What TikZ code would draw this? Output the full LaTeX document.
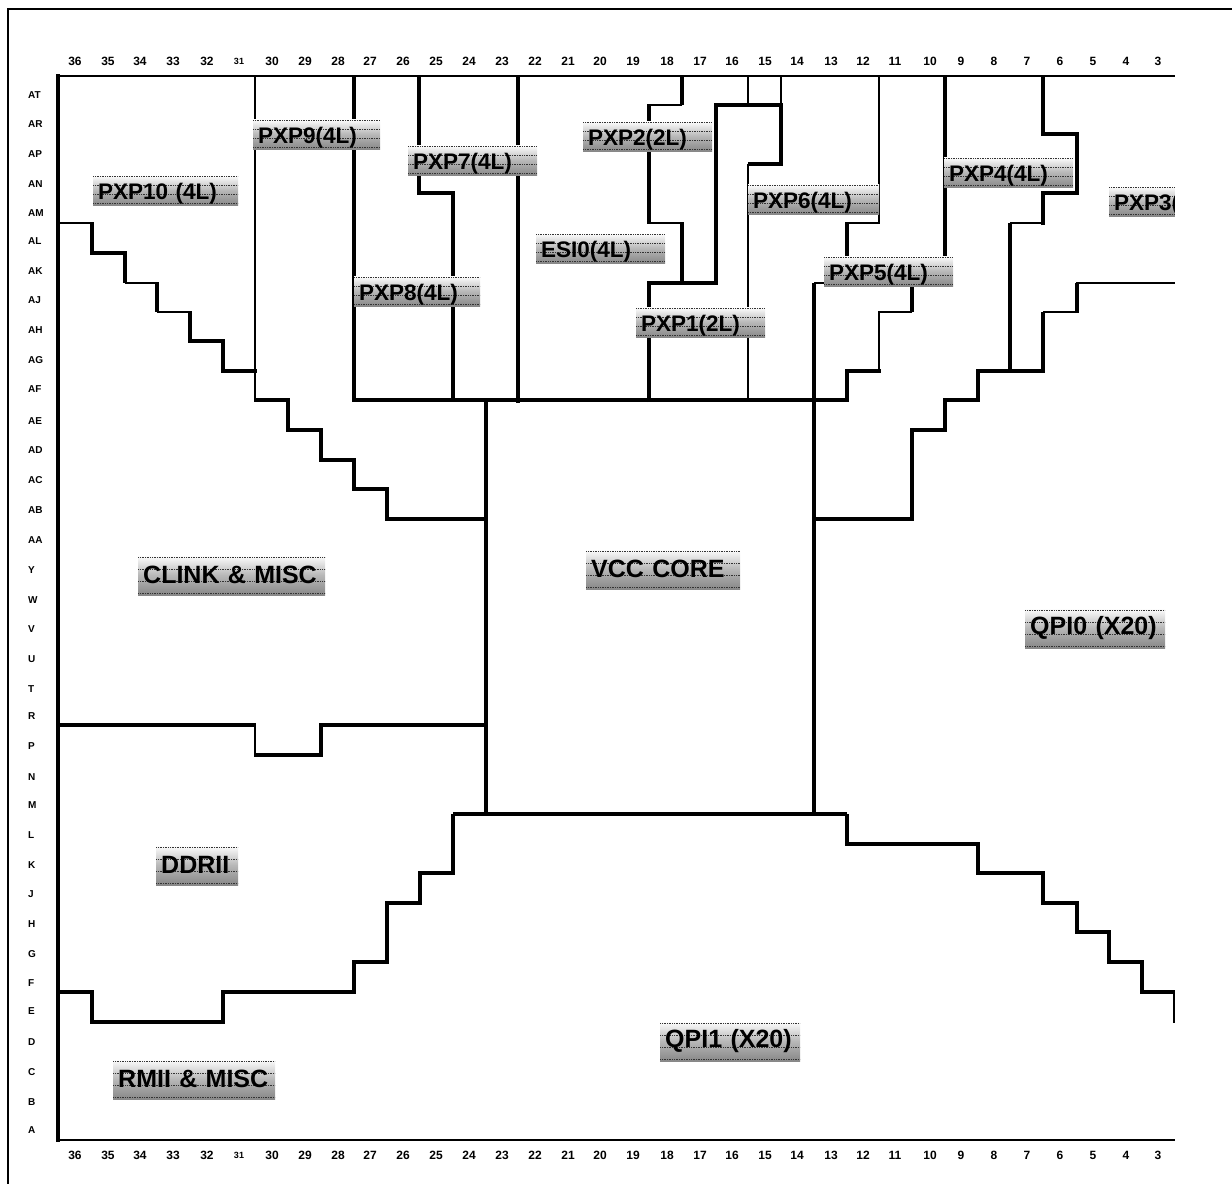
\documentclass[tikz,border=0pt]{standalone}
\usepackage{fontspec}
\setmainfont{Liberation Sans}
\usetikzlibrary{calc}

\tikzset{
  wall/.style={line width=3.2pt,line join=miter},
  thinwall/.style={line width=2pt,line join=miter},
  collabel/.style={font=\bfseries\fontsize{12}{12}\selectfont,inner sep=0pt},
  rowlabel/.style={font=\bfseries\fontsize{10}{10}\selectfont,inner sep=0pt,anchor=west},
  pinbox/.style={anchor=north west,inner xsep=5pt,inner ysep=0pt,align=left,
    top color=white,bottom color=black!47,middle color=black!28,
    path picture={
      \foreach \f in {.05,.35,.65,.95}
        \draw[densely dotted,black!80,line width=.7pt]
          ($(path picture bounding box.north west)!\f!(path picture bounding box.south west)$) --
          ($(path picture bounding box.north east)!\f!(path picture bounding box.south east)$);
    }},
  smallpin/.style={pinbox,font=\bfseries\fontsize{22.5}{22.5}\selectfont,minimum height=30pt},
  bigpin/.style={pinbox,font=\bfseries\fontsize{25}{25}\selectfont,minimum height=40pt}
}

\begin{document}
\begin{tikzpicture}[x=1pt,y=-1pt]
  \useasboundingbox (0,0) rectangle (1232,1184);

  % frame and pin field
  \draw[thinwall] (1232,9) -- (8,9) -- (8,1184);
  \draw[thinwall] (58,76) -- (1175,76);
  \draw[thinwall] (57,1140) -- (1175,1140);
  \draw[wall] (58,74) -- (58,1142);

  \foreach \n/\x in {36/75,35/108,34/140,33/173,32/207,31/239,30/272,29/305,28/338,27/370,
      26/403,25/436,24/469,23/502,22/535,21/568,20/600,19/633,18/667,17/700,16/732,15/765,
      14/797,13/831,12/863,11/895,10/930,9/961,8/994,7/1027,6/1060,5/1093,4/1126,3/1158} {
    \ifnum\n=31
      \node[collabel,font=\bfseries\fontsize{9}{9}\selectfont] (top\n) at (\x,61) {\n};
      \node[collabel,font=\bfseries\fontsize{9}{9}\selectfont] (bot\n) at (\x,1155) {\n};
    \else
      \node[collabel] (top\n) at (\x,61) {\n};
      \node[collabel] (bot\n) at (\x,1155) {\n};
    \fi
  }

  \foreach \r/\y in {AT/95,AR/124,AP/154,AN/184,AM/213,AL/241,AK/271,AJ/300,AH/330,AG/360,
      AF/389,AE/421,AD/450,AC/480,AB/510,AA/540,Y/570,W/600,V/629,U/659,T/689,R/716,P/746,
      N/777,M/805,L/835,K/865,J/894,H/924,G/954,F/983,E/1011,D/1042,C/1072,B/1102,A/1130} {
    \node[rowlabel] (row\r) at (28,\y) {\r};
  }

  % left side steps
  \draw[thinwall] (58,223) -- (92,223);
  \draw[wall] (92,222) -- (92,253) -- (125,253) -- (125,283);
  \draw[thinwall] (125,283) -- (157,283);
  \draw[wall] (157,282) -- (157,312);
  \draw[thinwall] (157,312) -- (190,312);
  \draw[wall] (190,311) -- (190,341) -- (223,341) -- (223,371) -- (257,371);
  \draw[thinwall] (255,76) -- (255,402);
  \draw[wall] (255,400) -- (288,400) -- (288,430) -- (321,430) -- (321,460) -- (354,460)
    -- (354,489) -- (387,489) -- (387,519) -- (486,519);

  % core
  \draw[wall] (354,76) -- (354,402);
  \draw[wall] (354,400) -- (847,400) -- (847,371) -- (881,371);
  \draw[wall] (486,400) -- (486,814);
  \draw[wall] (814,283) -- (814,814);
  \draw[wall] (453,814) -- (847,814);

  % top channels
  \draw[wall] (419,76) -- (419,193) -- (453,193) -- (453,400);
  \draw[wall] (518,76) -- (518,403);
  \draw[wall] (682,76) -- (682,105);
  \draw[thinwall] (682,105) -- (648,105);
  \draw[wall] (649,104) -- (649,224);
  \draw[thinwall] (648,223) -- (683,223);
  \draw[wall] (682,222) -- (682,283);
  \draw[wall] (649,402) -- (649,283) -- (716,283) -- (716,105) -- (781,105) -- (781,164) -- (748,164);
  \draw[thinwall] (748,76) -- (748,105);
  \draw[thinwall] (781,76) -- (781,105);
  \draw[thinwall] (748,164) -- (748,402);
  \draw[thinwall] (879,76) -- (879,224);
  \draw[thinwall] (847,223) -- (880,223);
  \draw[wall] (847,222) -- (847,270);
  \draw[thinwall] (814,283) -- (850,283);
  \draw[wall] (912,270) -- (912,312);
  \draw[thinwall] (912,312) -- (879,312) -- (879,371);

  % right side steps
  \draw[wall] (945,76) -- (945,270);
  \draw[wall] (814,519) -- (912,519) -- (912,430) -- (945,430) -- (945,400) -- (978,400)
    -- (978,371) -- (1043,371) -- (1043,312);
  \draw[thinwall] (1043,312) -- (1077,312);
  \draw[wall] (1077,313) -- (1077,283);
  \draw[thinwall] (1076,283) -- (1175,283);
  \draw[wall] (1010,371) -- (1010,223);
  \draw[thinwall] (1010,223) -- (1043,223);
  \draw[wall] (1043,225) -- (1043,193) -- (1077,193) -- (1077,134) -- (1043,134) -- (1043,76);

  % lower steps
  \draw[wall] (58,725) -- (256,725);
  \draw[thinwall] (255,725) -- (255,755);
  \draw[wall] (254,755) -- (321,755) -- (321,725) -- (486,725);
  \draw[wall] (58,992) -- (92,992) -- (92,1022) -- (223,1022) -- (223,992) -- (354,992)
    -- (354,962) -- (387,962) -- (387,903) -- (420,903) -- (420,873) -- (453,873) -- (453,814);
  \draw[wall] (847,814) -- (847,844) -- (978,844) -- (978,873) -- (1043,873) -- (1043,903)
    -- (1077,903) -- (1077,932) -- (1109,932) -- (1109,962) -- (1142,962) -- (1142,992) -- (1175,992);
  \draw[thinwall] (1174,992) -- (1174,1023);

  % bus labels
  \foreach \nm/\x/\y/\w/\t in {pxpten/93/175/145/PXP10 (4L),pxpnine/253/119/127/PXP9(4L),
      pxpseven/408/145/129/PXP7(4L),pxpeight/354/276/126/PXP8(4L),pxptwo/583/121/129/PXP2(2L),
      esizero/536/233/129/ESI0(4L),pxpone/636/307/129/PXP1(2L),pxpsix/748/184/131/PXP6(4L),
      pxpfive/824/256/129/PXP5(4L),pxpfour/944/157/129/PXP4(4L),pxpthree/1109/186/66/PXP3(} {
    \node[smallpin,minimum width=\w pt,text width=\w pt-10pt] (\nm) at (\x,\y)
      {\raisebox{0pt}[1em][.2em]{\t}};
  }
  \foreach \nm/\x/\y/\w/\t in {clink/138/555/187/CLINK \& MISC,vcc/586/549/154/VCC CORE,
      qpizero/1025/608/140/QPI0 (X20),qpione/660/1021/140/QPI1 (X20),ddr/156/845/82/DDRII,
      rmii/113/1059/162/RMII \& MISC} {
    \node[bigpin,minimum width=\w pt,text width=\w pt-10pt] (\nm) at (\x,\y) {\t};
  }
  \fill[white] (1175,180) rectangle (1190,222);
\end{tikzpicture}
\end{document}
